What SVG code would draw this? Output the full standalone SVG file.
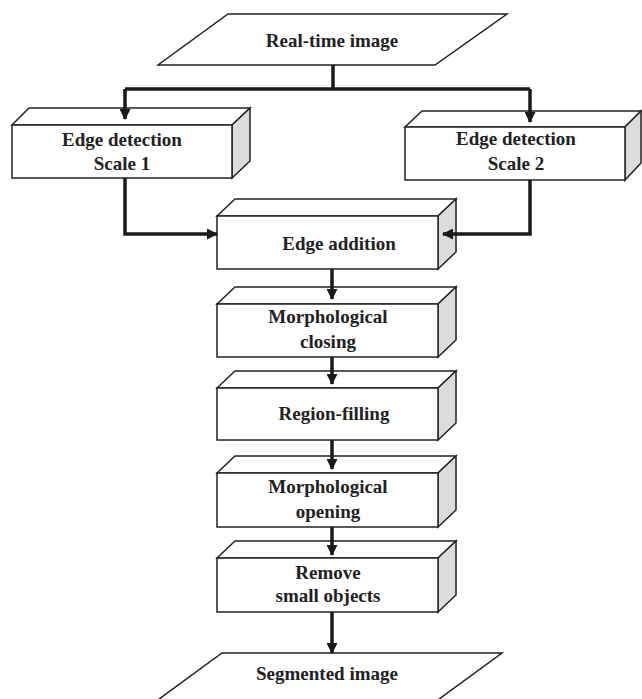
<svg xmlns="http://www.w3.org/2000/svg" width="642" height="699" viewBox="0 0 642 699">
<style>
.face{fill:#fff;stroke:#222;stroke-width:1.5;stroke-linejoin:miter}
.side{fill:#dcdcdc;stroke:#222;stroke-width:1.5}
.t{font-family:'Liberation Serif','Times New Roman','DejaVu Serif',serif;font-weight:700;font-size:19px;fill:#222;text-anchor:middle}
.c{fill:none;stroke:#1a1a1a;stroke-width:3.5;stroke-linejoin:miter}
</style>
<defs>
<marker id="ah" markerWidth="11" markerHeight="11" refX="10" refY="5.5" orient="auto" markerUnits="userSpaceOnUse">
<path d="M0,0 L11,5.5 L0,11 Z" fill="#1a1a1a"/>
</marker>
</defs>
<rect width="642" height="699" fill="#fff"/>
<g id="realtime">
<polygon class="face" points="228,14 507,14 435,65 158,65"/>
<text class="t" x="332" y="47">Real-time image</text>
</g>
<g id="edge1">
<polygon class="face" points="12,125 29,108 250,108 232,125"/>
<polygon class="side" points="232,125 250,108 250,161 232,178"/>
<rect class="face" x="12" y="125" width="220" height="53"/>
<text class="t" x="122" y="146">Edge detection</text>
<text class="t" x="122" y="170">Scale 1</text>
</g>
<g id="edge2">
<polygon class="face" points="405,127 422,111 641,111 625,127"/>
<polygon class="side" points="625,127 641,111 641,163 625,180"/>
<rect class="face" x="405" y="127" width="220" height="53"/>
<text class="t" x="516" y="145">Edge detection</text>
<text class="t" x="516" y="170">Scale 2</text>
</g>
<g id="addition">
<polygon class="face" points="217,216 235,199 456,199 438,216"/>
<polygon class="side" points="438,216 456,199 456,252 438,269"/>
<rect class="face" x="217" y="216" width="221" height="53"/>
<text class="t" x="339" y="250">Edge addition</text>
</g>
<g id="closing">
<polygon class="face" points="217,304 235,287 456,287 438,304"/>
<polygon class="side" points="438,304 456,287 456,340 438,357"/>
<rect class="face" x="217" y="304" width="221" height="53"/>
<text class="t" x="328" y="323">Morphological</text>
<text class="t" x="328" y="348">closing</text>
</g>
<g id="filling">
<polygon class="face" points="217,388 235,371 456,371 438,388"/>
<polygon class="side" points="438,388 456,371 456,423 438,440"/>
<rect class="face" x="217" y="388" width="221" height="52"/>
<text class="t" x="334" y="420">Region-filling</text>
</g>
<g id="opening">
<polygon class="face" points="217,473 235,456 456,456 438,473"/>
<polygon class="side" points="438,473 456,456 456,510 438,527"/>
<rect class="face" x="217" y="473" width="221" height="54"/>
<text class="t" x="328" y="493">Morphological</text>
<text class="t" x="328" y="518">opening</text>
</g>
<g id="remove">
<polygon class="face" points="217,558 235,541 456,541 438,558"/>
<polygon class="side" points="438,558 456,541 456,595 438,612"/>
<rect class="face" x="217" y="558" width="221" height="54"/>
<text class="t" x="328" y="579">Remove</text>
<text class="t" x="328" y="602">small objects</text>
</g>
<g id="segmented">
<polygon class="face" points="222,653 502,653 435,702 155,702"/>
<text class="t" x="327" y="680">Segmented image</text>
</g>
<g id="connectors">
<path class="c" d="M333,65 V89"/>
<path class="c" d="M125,89 H530"/>
<path class="c" d="M125,89 V119" marker-end="url(#ah)"/>
<path class="c" d="M530,89 V122" marker-end="url(#ah)"/>
<path class="c" d="M125,178 V234 H217" marker-end="url(#ah)"/>
<path class="c" d="M530,180 V234 H443" marker-end="url(#ah)"/>
<path class="c" d="M332,269 V299" marker-end="url(#ah)"/>
<path class="c" d="M332,357 V384" marker-end="url(#ah)"/>
<path class="c" d="M332,440 V469" marker-end="url(#ah)"/>
<path class="c" d="M332,527 V555" marker-end="url(#ah)"/>
<path class="c" d="M332,612 V653" marker-end="url(#ah)"/>
</g>
</svg>
